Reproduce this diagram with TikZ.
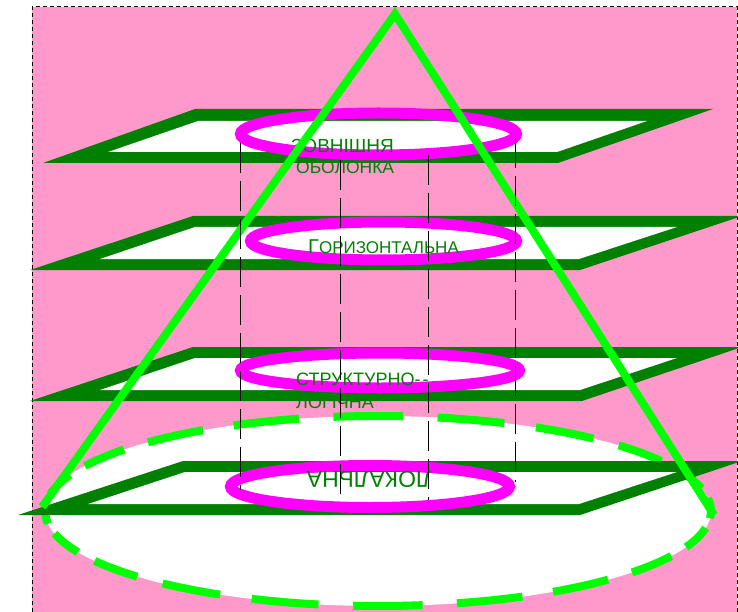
\documentclass[tikz,border=0pt]{standalone}
\usepackage{fontspec}
\setmainfont{Liberation Sans}
\definecolor{pinkbg}{HTML}{FF99CC}
\definecolor{planegreen}{HTML}{008000}
\definecolor{brightgreen}{HTML}{00FF00}
\definecolor{mag}{HTML}{FF00FF}
\begin{document}
\begin{tikzpicture}[x=1pt,y=-1pt,
  planeout/.style={fill=planegreen},
  planein/.style={fill=white},
  ring/.style={draw=mag,line width=11pt},
  lbl/.style={text=planegreen,inner sep=0pt,anchor=base west},
  guide/.style={draw=black,line width=1pt,dash pattern=on 30pt off 8pt},
  cone/.style={draw=brightgreen,line width=8pt,line join=miter},
  basefill/.style={fill=white},
  basedash/.style={draw=brightgreen,line width=8pt}
  ]
\useasboundingbox (0,0) rectangle (738,612);
% background
\fill[pinkbg] (32,7) rectangle (737,640);
\draw[black,line width=1pt,dash pattern=on 4pt off 3pt] (32,640) -- (32,7) -- (737,7) -- (737,640);
% plane 1
\fill[planeout] (43,163) -- (195,109) -- (713,109) -- (558,163) -- cycle;
\fill[planein] (108,152) -- (198,121) -- (647,121) -- (557,152) -- cycle;
% plane 2
\fill[planeout] (30,270) -- (193,216) -- (742,216) -- (580,270) -- cycle;
\fill[planein] (100,259) -- (195,227) -- (677,227) -- (579,259) -- cycle;
% plane 3
\fill[planeout] (30,401) -- (193,347) -- (742,347) -- (582,401) -- cycle;
\fill[planein] (100,390) -- (195,358) -- (677,358) -- (580,390) -- cycle;
% rings 1-3
\draw[ring] (378.5,134) ellipse [x radius=138, y radius=21];
\draw[ring] (383.5,241) ellipse [x radius=133, y radius=19];
\draw[ring] (380,370.5) ellipse [x radius=139.5, y radius=17.5];
% texts 1-3
\node[lbl,font=\fontsize{19}{21}\selectfont] (t1a) at (291,153) {ЗОВНІШНЯ};
\node[lbl,font=\fontsize{17.5}{21}\selectfont] (t1b) at (296,174) {ОБОЛОНКА};
\node[lbl,font=\fontsize{17}{19}\selectfont] (t2) at (308,254) {{\fontsize{20}{19}\selectfont Г}ОРИЗОНТАЛЬНА};
\node[lbl,font=\fontsize{18}{21}\selectfont] (t3a) at (296,385) {СТРУКТУРНО-\kern2pt-};
\node[lbl,font=\fontsize{18}{21}\selectfont] (t3b) at (296,408) {ЛОГІЧНА};
% base ellipse with dashes proportional to the parameter angle
\fill[basefill] (378,511) ellipse [x radius=333, y radius=95];
\foreach \k in {0,...,19}{
  \draw[basedash] (378,511) ++({10.3+18*\k}:333 and 95)
    arc [start angle={10.3+18*\k}, delta angle=12, x radius=333, y radius=95];
}
% plane 4
\fill[planeout] (18,515) -- (183,461) -- (742,461) -- (580,515) -- cycle;
\fill[planein] (88,504) -- (185,472) -- (677,472) -- (579,504) -- cycle;
\draw[ring] (370,486.5) ellipse [x radius=139.5, y radius=21];
\node[text=planegreen,inner sep=0pt,rotate=180,font=\fontsize{23}{23}\selectfont] (t4) at (369,479) {ЛОКАЛЬНА};
% cone
\draw[cone] (42,507) -- (395,14) -- (714,515);
% guide lines
\draw[guide] (240,143) -- (240,490);
\draw[guide] (340,160) -- (340,500);
\draw[guide] (428,155) -- (428,500);
\draw[guide] (515,138) -- (515,482);
\end{tikzpicture}
\end{document}
